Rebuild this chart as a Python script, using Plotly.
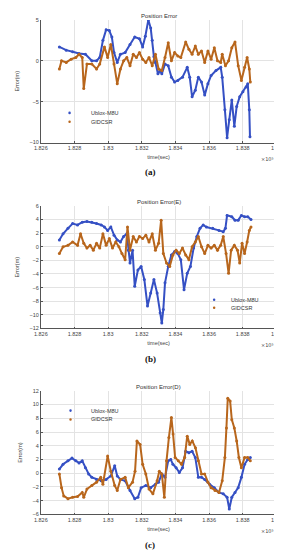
import plotly.graph_objects as go

# ---------------- data (time in units of 1e5 s, error in metres) ----------------
# (a) Position Error
t_a_ublox = [1.82710, 1.82751, 1.82789, 1.82827, 1.82865, 1.82903, 1.82931, 1.82950, 1.82969, 1.82988,
             1.83007, 1.83022, 1.83035, 1.83054, 1.83073, 1.83101, 1.83130, 1.83158, 1.83186, 1.83205,
             1.83221, 1.83239, 1.83253, 1.83262, 1.83272, 1.83281, 1.83296, 1.83309, 1.83319, 1.83338,
             1.83357, 1.83376, 1.83395, 1.83414, 1.83442, 1.83470, 1.83485, 1.83499, 1.83518, 1.83536,
             1.83555, 1.83574, 1.83593, 1.83612, 1.83641, 1.83669, 1.83678, 1.83694, 1.83707, 1.83720,
             1.83735, 1.83750, 1.83764, 1.83782, 1.83801, 1.83820, 1.83830, 1.83839, 1.83843]
e_a_ublox = [1.7, 1.3, 1.1, 0.9, 0.8, 0.0, 0.0, 0.4, 2.5, 3.8,
             3.7, 2.9, 1.0, -0.2, 0.8, 1.0, 2.0, 2.9, 2.7, 1.7,
             3.0, 5.0, 4.0, 2.5, 0.5, -0.2, -1.6, -1.2, -1.6, -0.4,
             -0.6, -2.0, -2.6, -2.4, -2.0, -0.8, -2.0, -4.4, -3.6, -2.0,
             -2.6, -4.2, -2.8, -1.8, -1.2, -0.8, -2.0, -6.0, -9.4, -7.2,
             -4.8, -8.0, -5.6, -4.4, -3.8, -3.2, -2.8, -6.0, -9.3]
t_a_gidcsr = [1.82710, 1.82723, 1.82751, 1.82780, 1.82808, 1.82827, 1.82846, 1.82855, 1.82874, 1.82903,
              1.82931, 1.82950, 1.82978, 1.82997, 1.83016, 1.83035, 1.83054, 1.83073, 1.83092, 1.83111,
              1.83130, 1.83149, 1.83168, 1.83186, 1.83205, 1.83224, 1.83243, 1.83262, 1.83281, 1.83300,
              1.83319, 1.83338, 1.83357, 1.83376, 1.83395, 1.83414, 1.83432, 1.83461, 1.83480, 1.83499,
              1.83518, 1.83536, 1.83555, 1.83574, 1.83593, 1.83612, 1.83631, 1.83650, 1.83669, 1.83678,
              1.83697, 1.83716, 1.83735, 1.83754, 1.83773, 1.83792, 1.83811, 1.83826, 1.83839, 1.83845]
e_a_gidcsr = [-1.0, 0.0, -0.2, 0.2, 0.4, 0.8, 0.4, -3.4, -0.4, -0.4,
              -1.0, -0.4, 1.7, 0.4, 2.0, -0.4, -2.8, -1.0, 0.0, 0.4,
              -0.6, 0.8, 0.4, 1.0, 0.2, -0.2, 0.4, -0.6, 0.8, -1.0,
              -1.2, 0.4, 2.2, 0.0, 1.0, 0.6, 0.4, 2.3, 1.4, 0.8,
              1.8, 0.8, 1.2, -0.2, 1.2, 0.2, 1.6, 0.0, -0.2, 0.8,
              -0.6, 0.0, 1.6, 2.3, -0.6, -2.4, -0.8, 0.4, -1.0, -2.6]

# (b) Position Error(E)
t_b_ublox = [1.82710, 1.82732, 1.82761, 1.82789, 1.82818, 1.82846, 1.82874, 1.82903, 1.82931, 1.82959,
             1.82978, 1.82997, 1.83016, 1.83035, 1.83054, 1.83073, 1.83092, 1.83111, 1.83120, 1.83130,
             1.83145, 1.83158, 1.83177, 1.83196, 1.83215, 1.83234, 1.83253, 1.83272, 1.83291, 1.83309,
             1.83319, 1.83328, 1.83338, 1.83357, 1.83376, 1.83395, 1.83414, 1.83432, 1.83451, 1.83470,
             1.83489, 1.83508, 1.83527, 1.83546, 1.83565, 1.83584, 1.83622, 1.83659, 1.83684, 1.83697,
             1.83707, 1.83735, 1.83754, 1.83773, 1.83792, 1.83811, 1.83830, 1.83849]
e_b_ublox = [1.0, 1.9, 2.7, 3.4, 3.2, 3.6, 3.7, 3.6, 3.4, 3.2,
             2.9, 2.4, 2.9, 1.7, 1.0, 0.7, 1.5, 1.9, -0.5, -2.4,
             -0.5, -5.8, -3.4, -2.9, -4.8, -8.7, -6.8, -4.8, -6.8, -9.7,
             -11.2, -9.2, -5.3, -2.9, -1.2, -0.7, -1.0, -1.9, -6.3, -3.9,
             -2.9, -0.2, 1.5, 2.7, 3.2, 2.9, 2.7, 2.4, 2.2, 2.7,
             4.6, 4.4, 3.9, 3.9, 4.6, 4.4, 4.4, 4.0]
t_b_gidcsr = [1.82710, 1.82732, 1.82761, 1.82789, 1.82818, 1.82836, 1.82855, 1.82874, 1.82893, 1.82912,
              1.82931, 1.82950, 1.82969, 1.82988, 1.83007, 1.83026, 1.83045, 1.83064, 1.83082, 1.83101,
              1.83115, 1.83130, 1.83149, 1.83168, 1.83186, 1.83205, 1.83224, 1.83243, 1.83262, 1.83281,
              1.83300, 1.83315, 1.83328, 1.83347, 1.83366, 1.83385, 1.83404, 1.83423, 1.83442, 1.83461,
              1.83480, 1.83499, 1.83518, 1.83536, 1.83555, 1.83574, 1.83593, 1.83612, 1.83631, 1.83650,
              1.83669, 1.83684, 1.83701, 1.83716, 1.83731, 1.83750, 1.83769, 1.83782, 1.83796, 1.83811,
              1.83826, 1.83839, 1.83849]
e_b_gidcsr = [-1.0, 0.0, 0.2, 0.7, 0.2, 1.9, 0.5, -0.2, 0.2, -0.5,
              0.5, -0.2, 1.9, 0.2, 1.2, -0.2, 0.7, 0.0, -1.0, -1.9,
              2.9, -0.5, 1.5, 0.7, 1.5, 1.2, 1.7, 0.7, 1.9, -0.5,
              0.5, 3.9, -1.0, -2.4, -2.9, -1.2, -0.5, -1.0, -0.2, -1.2,
              -1.9, 0.0, 0.7, 1.5, 0.0, -1.0, 0.2, -0.2, 0.2, -0.5,
              0.2, 1.5, -1.0, -3.9, -0.5, 0.2, -0.5, -2.4, 0.5, -1.0,
              0.7, 2.4, 2.9]

# (c) Position Error(D)
t_c_ublox = [1.82710, 1.82732, 1.82761, 1.82785, 1.82808, 1.82827, 1.82846, 1.82865, 1.82884, 1.82903,
             1.82931, 1.82959, 1.82988, 1.83016, 1.83039, 1.83054, 1.83073, 1.83101, 1.83130, 1.83158,
             1.83177, 1.83196, 1.83224, 1.83253, 1.83281, 1.83300, 1.83319, 1.83338, 1.83357, 1.83372,
             1.83385, 1.83404, 1.83423, 1.83442, 1.83461, 1.83480, 1.83499, 1.83518, 1.83536, 1.83555,
             1.83574, 1.83603, 1.83631, 1.83659, 1.83684, 1.83707, 1.83720, 1.83735, 1.83754, 1.83773,
             1.83792, 1.83811, 1.83830, 1.83845]
e_c_ublox = [0.6, 1.3, 1.8, 2.2, 1.8, 1.5, 1.8, 0.8, -0.1, -0.6,
             -0.9, -1.1, -0.9, -0.4, 1.1, -0.4, -0.9, -1.1, -2.5, -3.7,
             -3.5, -2.1, -1.8, -2.1, -1.6, -1.3, -0.1, -0.6, 1.8, 2.0,
             1.3, 0.8, 0.1, 0.8, 3.2, 3.0, 3.2, 2.3, -0.6, -0.6,
             -0.9, -1.6, -2.1, -2.8, -3.0, -3.5, -5.2, -3.5, -2.8, -2.1,
             -0.6, 1.3, 2.0, 2.3]
t_c_gidcsr = [1.82710, 1.82723, 1.82736, 1.82761, 1.82789, 1.82818, 1.82846, 1.82855, 1.82874, 1.82903,
              1.82931, 1.82956, 1.82969, 1.82997, 1.83016, 1.83039, 1.83054, 1.83073, 1.83101, 1.83120,
              1.83145, 1.83160, 1.83171, 1.83190, 1.83205, 1.83224, 1.83243, 1.83266, 1.83291, 1.83304,
              1.83319, 1.83334, 1.83347, 1.83361, 1.83376, 1.83386, 1.83398, 1.83417, 1.83436, 1.83455,
              1.83470, 1.83485, 1.83500, 1.83519, 1.83536, 1.83555, 1.83574, 1.83593, 1.83612, 1.83635,
              1.83659, 1.83678, 1.83694, 1.83703, 1.83711, 1.83725, 1.83735, 1.83750, 1.83764, 1.83777,
              1.83792, 1.83811, 1.83830, 1.83845]
e_c_gidcsr = [-0.1, -2.1, -3.3, -3.7, -3.5, -3.4, -2.8, -3.5, -2.3, -1.8,
              -1.3, -0.6, -1.6, 2.5, 0.3, -1.8, -2.5, -0.9, -0.6, -2.1,
              -1.3, 0.3, 4.7, 4.2, 1.3, -0.1, -2.3, -3.0, -1.1, 0.3,
              -0.1, -3.5, 1.8, 5.2, 8.1, 5.7, 2.3, 1.8, 1.3, 2.3,
              5.4, 4.2, 4.7, 3.7, 1.8, -0.1, -0.1, -1.3, -2.1, -2.5,
              -2.8, -1.1, 2.3, 6.6, 10.9, 10.5, 7.8, 6.6, 4.7, 2.3,
              0.8, 2.3, 2.3, 1.8]

x_ticks = [1.826, 1.828, 1.830, 1.832, 1.834, 1.836, 1.838, 1.840]
x_tick_labels = ["1.826", "1.828", "1.83", "1.832", "1.834", "1.836", "1.838", "1.84"]
series_names = ["Ublox-M8U", "GIDCSR"]
panel_titles = ["Position Error", "Position Error(E)", "Position Error(D)"]
panel_captions = ["(a)", "(b)", "(c)"]

# ---------------- styling ----------------
W, H = 282, 550
BLUE = "#3550c4"
ORANGE = "#b8661c"
FONT = "Liberation Sans, Arial, sans-serif"


def px(x):
    return x / W


def py(y):
    return 1 - y / H


panels = [
    dict(t=(t_a_ublox, t_a_gidcsr), e=(e_a_ublox, e_a_gidcsr), yr=[-10, 5], dy=5,
         top=9, bot=133, leg=(57, 103, 112, 77)),
    dict(t=(t_b_ublox, t_b_gidcsr), e=(e_b_ublox, e_b_gidcsr), yr=[-12, 6], dy=2,
         top=197, bot=321, leg=(208, 292, 300, 223)),
    dict(t=(t_c_ublox, t_c_gidcsr), e=(e_c_ublox, e_c_gidcsr), yr=[-6, 12], dy=2,
         top=384, bot=509, leg=(58, 404, 413, 77)),
]

fig = go.Figure()
annotations = []
shapes = []
layout = dict(width=W, height=H, autosize=False, margin=dict(l=0, r=0, t=0, b=0),
              paper_bgcolor="white", plot_bgcolor="white", showlegend=False,
              font=dict(family=FONT, size=6, color="#333333"))

x_left, x_right = 27, 273
for i, p in enumerate(panels):
    sfx = "" if i == 0 else str(i + 1)
    for k, col in enumerate([BLUE, ORANGE]):
        fig.add_trace(go.Scatter(
            x=p["t"][k], y=p["e"][k], mode="lines+markers", name=series_names[k],
            line=dict(color=col, width=2), marker=dict(color=col, size=3),
            xaxis="x" + sfx, yaxis="y" + sfx, showlegend=False))
    axstyle = dict(showline=True, linecolor="#555555", linewidth=0.8, mirror=False,
                   showgrid=True, gridcolor="#e3e3e3", gridwidth=0.7, zeroline=False,
                   ticks="inside", ticklen=2, tickcolor="#555555",
                   tickfont=dict(family=FONT, size=5.5, color="#444444"))
    layout["xaxis" + sfx] = dict(axstyle, domain=[px(x_left), px(x_right)], range=[1.826, 1.840],
                                 tickvals=x_ticks, ticktext=x_tick_labels, anchor="y" + sfx,
                                 title=dict(text="time(sec)", standoff=5,
                                            font=dict(family=FONT, size=5.5, color="#444444")))
    layout["yaxis" + sfx] = dict(axstyle, domain=[py(p["bot"]), py(p["top"])], range=p["yr"],
                                 dtick=p["dy"], tick0=0, anchor="x" + sfx,
                                 title=dict(text="Error(m)", standoff=9,
                                            font=dict(family=FONT, size=5.5, color="#444444")))
    # title
    annotations.append(dict(text=panel_titles[i], x=px(150), y=py(p["top"] - 4), xref="paper", yref="paper",
                            showarrow=False, font=dict(size=6, color="#333333"), xanchor="center", yanchor="middle"))
    annotations.append(dict(text="×10⁵", x=px(264), y=py(p["bot"] + 17), xref="paper", yref="paper",
                            showarrow=False, font=dict(family="DejaVu Sans, sans-serif", size=5, color="#444444"),
                            xanchor="center", yanchor="middle"))
    # caption
    annotations.append(dict(text="<b>" + panel_captions[i] + "</b>", x=px(141), y=py(p["bot"] + 30 + (1 if i else 0)),
                            xref="paper", yref="paper", showarrow=False,
                            font=dict(family="Liberation Serif, serif", size=9, color="#111111"),
                            xanchor="center", yanchor="middle"))
    # legend (symbol as a small circle shape, label as text)
    mx, y1, y2, tx = p["leg"]
    for yy, col, name in [(y1, BLUE, series_names[0]), (y2, ORANGE, series_names[1])]:
        r = 1.3
        shapes.append(dict(type="circle", xref="paper", yref="paper",
                           x0=px(mx - r), x1=px(mx + r), y0=py(yy + r), y1=py(yy - r),
                           fillcolor=col, line=dict(width=0)))
        annotations.append(dict(text=name, x=px(tx), y=py(yy), xref="paper", yref="paper", showarrow=False,
                                font=dict(size=5.5, color="#333333"), xanchor="left", yanchor="middle"))

layout["annotations"] = annotations
layout["shapes"] = shapes
fig.update_layout(**layout)
fig.write_html("out.html")
